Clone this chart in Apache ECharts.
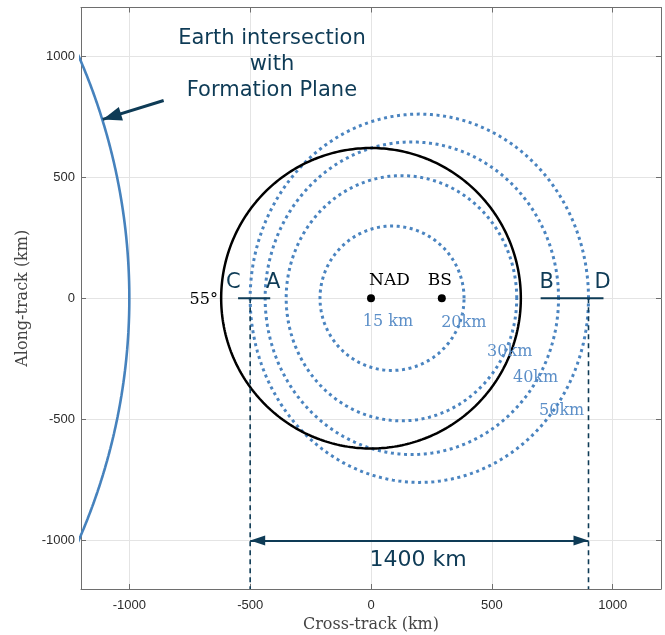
<!DOCTYPE html>
<html>
<head>
<meta charset="utf-8">
<script src="https://cdn.jsdelivr.net/npm/echarts@6/dist/echarts.min.js"></script>
<style>
  html, body { margin: 0; padding: 0; background: #fff; }
  #chart { width: 665px; height: 635px; }
</style>
</head>
<body>
<div id="chart"></div>
<script>
// Axis range and tick positions (km)
const axisMin = -1200;
const axisMax = 1200;
const tickValues = [-1000, -500, 0, 500, 1000];

// Nadir and boresight points on the cross-track axis
const pointNames = ['NAD', 'BS'];
const pointX = [0, 293];
const pointY = [0, 0];

// Baseline contours: centre (x), half-width, half-height
const ringNames = ['20km', '30km', '40km', '50km'];
const ringCenterX = [87, 126, 169, 200];
const ringRadiusX = [298, 477, 607, 700];
const ringRadiusY = [298, 506, 645, 760];
// contour label positions
const ringLabelX = [384, 574, 681, 789];
const ringLabelY = [-102, -222, -329, -466];
const innerLabel = '15 km';
const innerLabelPos = [70, -98];

// 55° incidence circle
const incidenceCenter = [0, 0];
const incidenceRadius = 620;
const incidenceText = '55°';
const incidenceTextPos = [-692, -7];

// Earth limb in the formation plane (circular arc)
const earthCenterX = -3486;
const earthRadius = 2486;
const earthSpanY = [-1060, 1060];

// Swath edge markers
const edgeC = -500;
const edgeD = 900;
const segmentCA = [-550, -417];
const segmentBD = [702, 962];
const swathRowY = -1000;
const swathText = '1400 km';
const swathTextPos = [195, -1082];

// Sans-serif callout letters and captions
const letterNames = ['C', 'A', 'B', 'D'];
const letterX = [-570, -405, 727, 958];
const letterY = [63, 63, 63, 63];
const calloutText = 'Earth intersection\nwith\nFormation Plane';
const calloutPos = [-410, 965];
const pointerFrom = [-858, 816];
const pointerTo = [-1110, 738];

const navy = '#0e3b56';
const ringBlue = '#4a84c0';
const labelBlue = '#5c8fc8';
const earthBlue = '#4682bd';

function ellipsePoints(cx, cy, rx, ry) {
  const pts = [];
  for (let i = 0; i <= 360; i++) {
    const t = i * Math.PI / 180;
    pts.push([cx + rx * Math.cos(t), cy + ry * Math.sin(t)]);
  }
  return pts;
}

function arcPoints(cx, r, y0, y1) {
  const pts = [];
  for (let y = y0; y <= y1; y += 10) {
    pts.push([cx + Math.sqrt(r * r - y * y), y]);
  }
  return pts;
}

const series = [];

// Earth limb
series.push({
  type: 'line', data: arcPoints(earthCenterX, earthRadius, earthSpanY[0], earthSpanY[1]),
  showSymbol: false, silent: true, z: 3,
  lineStyle: { color: earthBlue, width: 2.6 }
});

// Baseline contours
ringNames.forEach((name, i) => {
  series.push({
    type: 'line', name: name,
    data: ellipsePoints(ringCenterX[i], 0, ringRadiusX[i], ringRadiusY[i]),
    showSymbol: false, silent: true, z: 2,
    lineStyle: { color: ringBlue, width: 3, type: [3, 3.6], cap: 'butt' }
  });
});

// 55° circle
series.push({
  type: 'line',
  data: ellipsePoints(incidenceCenter[0], incidenceCenter[1], incidenceRadius, incidenceRadius),
  showSymbol: false, silent: true, z: 4,
  lineStyle: { color: '#000', width: 2.5 }
});

// Edge segments C–A and B–D
[segmentCA, segmentBD].forEach(seg => {
  series.push({
    type: 'line', data: [[seg[0], 0], [seg[1], 0]],
    showSymbol: false, silent: true, z: 5,
    lineStyle: { color: navy, width: 2 }
  });
});

// Dashed drops from swath edges to the axis
[edgeC, edgeD].forEach(x => {
  series.push({
    type: 'line', data: [[x, 0], [x, axisMin]],
    showSymbol: false, silent: true, z: 5,
    lineStyle: { color: navy, width: 1.6, type: [5, 4] }
  });
});

// Arrows: swath width and Earth pointer (arrow tips end on the coordinates)
series.push({
  type: 'line', data: [], silent: true, z: 6,
  markLine: {
    silent: true, animation: false,
    label: { show: false },
    lineStyle: { color: navy, width: 2, type: 'solid' },
    emphasis: { disabled: true },
    symbolOffset: [0, '50%'],
    data: [
      [{ coord: [edgeC, swathRowY], symbol: 'triangle', symbolSize: [10, 15], symbolOffset: [0, '50%'] },
       { coord: [edgeD, swathRowY], symbol: 'triangle', symbolSize: [10, 15], symbolOffset: [0, '50%'] }],
      [{ coord: pointerFrom, symbol: 'none', lineStyle: { width: 3 } },
       { coord: pointerTo, symbol: 'triangle', symbolSize: [14, 19], symbolOffset: [0, '50%'] }]
    ]
  }
});

// NAD and BS points
series.push({
  type: 'scatter', silent: true, z: 7,
  symbol: 'circle', symbolSize: 8,
  itemStyle: { color: '#000', opacity: 1 },
  data: pointX.map((x, i) => ({
    value: [x, pointY[i]],
    label: {
      show: true, formatter: pointNames[i], position: [i === 0 ? 2 : -10, -22],
      fontFamily: 'DejaVu Serif', fontSize: 17, color: '#000'
    }
  }))
});

// Text annotations
const serifLabel = (txt, pos, color) => ({
  value: pos,
  label: { show: true, formatter: txt, position: 'inside', align: 'center', verticalAlign: 'middle',
           fontFamily: 'DejaVu Serif', fontSize: 16, color: color }
});
const sansLabel = (txt, pos, size, lh) => ({
  value: pos,
  label: { show: true, formatter: txt, position: 'inside', align: 'center', verticalAlign: 'middle',
           fontFamily: 'DejaVu Sans', fontSize: size, lineHeight: lh, color: navy }
});
const notes = [];
ringNames.forEach((n, i) => notes.push(serifLabel(n, [ringLabelX[i], ringLabelY[i]], labelBlue)));
notes.push(serifLabel(innerLabel, innerLabelPos, labelBlue));
notes.push(serifLabel(incidenceText, incidenceTextPos, '#000'));
letterNames.forEach((n, i) => notes.push(sansLabel(n, [letterX[i], letterY[i]], 21, 24)));
notes.push(sansLabel(swathText, swathTextPos, 22, 26));
notes.push(sansLabel(calloutText, calloutPos, 21, 26));

series.push({
  type: 'scatter', silent: true, z: 8, symbolSize: 0,
  itemStyle: { opacity: 1 },
  data: notes
});

const axisColor = '#6e6e6e';
const baseAxis = {
  type: 'value', min: axisMin, max: axisMax,
  axisLine: { show: true, onZero: false, lineStyle: { color: axisColor, width: 1 } },
  axisTick: { show: true, inside: true, length: 5, customValues: tickValues, lineStyle: { color: axisColor } },
  axisLabel: { customValues: tickValues, formatter: v => String(v), color: '#2b2b2b',
               fontFamily: 'Liberation Sans', fontSize: 13 },
  splitLine: { show: true, lineStyle: { color: '#e4e4e4', width: 1 } }
};

const chart = echarts.init(document.getElementById('chart'), null, { renderer: 'canvas' });
chart.setOption({
  animation: false,
  backgroundColor: '#fff',
  grid: { left: 81, right: 4, top: 7.5, bottom: 46, containLabel: false, outerBoundsMode: 'none' },
  xAxis: [
    Object.assign({}, baseAxis, {
      position: 'bottom',
      axisLabel: Object.assign({}, baseAxis.axisLabel, { margin: 10 }),
      name: 'Cross-track (km)', nameLocation: 'middle', nameGap: 26,
      nameTextStyle: { fontFamily: 'DejaVu Serif', fontSize: 16, color: '#444' }
    }),
    Object.assign({}, baseAxis, {
      position: 'top', axisLabel: { show: false }, splitLine: { show: false }
    })
  ],
  yAxis: [
    Object.assign({}, baseAxis, {
      position: 'left',
      axisLabel: Object.assign({}, baseAxis.axisLabel, { margin: 6 }),
      name: 'Along-track (km)', nameLocation: 'middle', nameGap: 45,
      nameTextStyle: { fontFamily: 'DejaVu Serif', fontSize: 16, color: '#444' }
    }),
    Object.assign({}, baseAxis, {
      position: 'right', axisLabel: { show: false }, splitLine: { show: false }
    })
  ],
  series: series
});
</script>
</body>
</html>
